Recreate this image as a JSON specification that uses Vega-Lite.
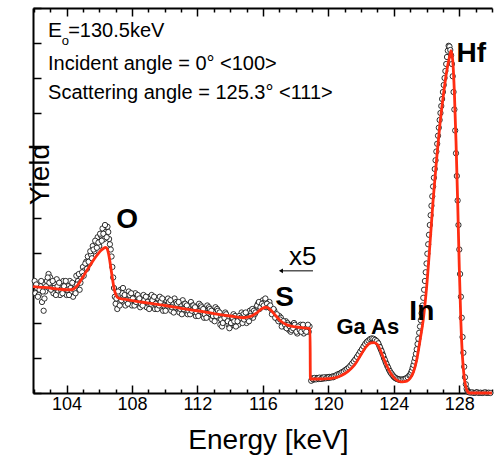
{
"$schema":"https://vega.github.io/schema/vega-lite/v6.json",
"width":459,"height":385,
"autosize":{"type":"none"},
"padding":{"left":33,"top":8,"right":2,"bottom":63},
"config":{"view":{"stroke":null},"font":"Liberation Sans","axis":{"domainColor":"black","domainWidth":2,"tickColor":"black","tickWidth":1.5,"labelFont":"Liberation Sans","titleFont":"Liberation Sans","grid":false,"labelColor":"black","titleColor":"black"}},
"datasets":{
"pts":[
{"e":102.1,"c":2.85},{"e":102.2,"c":3.0},{"e":102.3,"c":2.8},{"e":102.4,"c":3.05},{"e":102.5,"c":2.6},{"e":102.6,"c":2.35},{"e":102.7,"c":2.9},{"e":102.8,"c":3.2},{"e":102.9,"c":3.4},{"e":103.0,"c":3.3},
{"e":103.1,"c":3.0},{"e":103.2,"c":2.85},{"e":103.3,"c":3.1},{"e":103.4,"c":3.25},{"e":103.5,"c":2.9},{"e":103.6,"c":2.8},{"e":103.7,"c":3.15},{"e":103.8,"c":3.2},{"e":103.9,"c":2.95},{"e":104.0,"c":2.8},
{"e":104.1,"c":3.05},{"e":104.2,"c":3.2},{"e":104.3,"c":2.9},{"e":104.4,"c":2.75},{"e":104.5,"c":3.1},{"e":104.6,"c":3.35},{"e":104.7,"c":3.2},{"e":104.8,"c":2.95},{"e":104.9,"c":3.3},{"e":105.0,"c":3.6},
{"e":105.1,"c":3.5},{"e":105.2,"c":3.75},{"e":105.3,"c":3.9},{"e":105.4,"c":3.7},{"e":105.5,"c":3.95},{"e":105.6,"c":4.2},{"e":105.7,"c":4.05},{"e":105.8,"c":4.3},{"e":105.9,"c":4.45},{"e":106.0,"c":4.2},
{"e":106.1,"c":4.5},{"e":106.2,"c":4.7},{"e":106.3,"c":4.4},{"e":106.4,"c":4.6},{"e":106.5,"c":4.75},{"e":106.6,"c":4.4},{"e":106.7,"c":4.1},{"e":106.8,"c":3.6},{"e":106.9,"c":3.0},{"e":107.0,"c":2.55},
{"e":107.1,"c":2.4},{"e":107.2,"c":2.7},{"e":107.3,"c":2.95},{"e":107.4,"c":2.85},{"e":107.5,"c":2.6},{"e":107.6,"c":2.5},{"e":107.7,"c":2.75},{"e":107.8,"c":2.9},{"e":107.9,"c":2.7},{"e":108.0,"c":2.5},
{"e":108.1,"c":2.65},{"e":108.2,"c":2.85},{"e":108.3,"c":2.75},{"e":108.4,"c":2.55},{"e":108.5,"c":2.45},{"e":108.6,"c":2.7},{"e":108.7,"c":2.8},{"e":108.8,"c":2.6},{"e":108.9,"c":2.45},{"e":109.0,"c":2.55},
{"e":109.1,"c":2.75},{"e":109.2,"c":2.8},{"e":109.3,"c":2.6},{"e":109.4,"c":2.4},{"e":109.5,"c":2.5},{"e":109.6,"c":2.7},{"e":109.7,"c":2.75},{"e":109.8,"c":2.55},{"e":109.9,"c":2.35},{"e":110.0,"c":2.45},
{"e":110.1,"c":2.65},{"e":110.2,"c":2.7},{"e":110.3,"c":2.5},{"e":110.4,"c":2.35},{"e":110.5,"c":2.55},{"e":110.6,"c":2.7},{"e":110.7,"c":2.6},{"e":110.8,"c":2.4},{"e":110.9,"c":2.3},{"e":111.0,"c":2.5},
{"e":111.1,"c":2.65},{"e":111.2,"c":2.55},{"e":111.3,"c":2.35},{"e":111.4,"c":2.25},{"e":111.5,"c":2.45},{"e":111.6,"c":2.6},{"e":111.7,"c":2.5},{"e":111.8,"c":2.3},{"e":111.9,"c":2.2},{"e":112.0,"c":2.4},
{"e":112.1,"c":2.55},{"e":112.2,"c":2.5},{"e":112.3,"c":2.3},{"e":112.4,"c":2.15},{"e":112.5,"c":2.35},{"e":112.6,"c":2.5},{"e":112.7,"c":2.45},{"e":112.8,"c":2.25},{"e":112.9,"c":2.1},{"e":113.0,"c":2.2},
{"e":113.1,"c":2.45},{"e":113.2,"c":2.4},{"e":113.3,"c":2.15},{"e":113.4,"c":1.95},{"e":113.5,"c":1.9},{"e":113.6,"c":2.1},{"e":113.7,"c":2.3},{"e":113.8,"c":2.15},{"e":113.9,"c":1.95},{"e":114.0,"c":1.9},
{"e":114.1,"c":2.05},{"e":114.2,"c":2.25},{"e":114.3,"c":2.2},{"e":114.4,"c":2.0},{"e":114.5,"c":1.95},{"e":114.6,"c":2.1},{"e":114.7,"c":2.3},{"e":114.8,"c":2.25},{"e":114.9,"c":2.05},{"e":115.0,"c":2.0},
{"e":115.1,"c":2.2},{"e":115.2,"c":2.35},{"e":115.3,"c":2.3},{"e":115.4,"c":2.15},{"e":115.5,"c":2.25},{"e":115.6,"c":2.45},{"e":115.7,"c":2.55},{"e":115.8,"c":2.4},{"e":115.9,"c":2.5},{"e":116.0,"c":2.65},
{"e":116.1,"c":2.6},{"e":116.2,"c":2.45},{"e":116.3,"c":2.55},{"e":116.4,"c":2.6},{"e":116.5,"c":2.4},{"e":116.6,"c":2.3},{"e":116.7,"c":2.35},{"e":116.8,"c":2.2},{"e":116.9,"c":2.1},{"e":117.0,"c":2.2},
{"e":117.1,"c":2.15},{"e":117.2,"c":1.95},{"e":117.3,"c":1.9},{"e":117.4,"c":2.05},{"e":117.5,"c":2.0},{"e":117.6,"c":1.8},{"e":117.7,"c":1.75},{"e":117.8,"c":1.95},{"e":117.9,"c":2.0},{"e":118.0,"c":1.8},
{"e":118.1,"c":1.7},{"e":118.2,"c":1.85},{"e":118.3,"c":1.95},{"e":118.4,"c":1.8},{"e":118.5,"c":1.7},{"e":118.6,"c":1.85},{"e":118.7,"c":1.9},{"e":118.8,"c":1.75},{"e":118.85,"c":1.9},
{"e":102.05,"c":3.2},{"e":102.15,"c":3.1},{"e":102.25,"c":2.75},{"e":102.35,"c":2.95},{"e":102.45,"c":3.2},{"e":102.55,"c":2.9},{"e":102.65,"c":2.7},{"e":102.75,"c":3.05},{"e":102.85,"c":3.3},{"e":102.95,"c":3.15},
{"e":103.05,"c":2.95},{"e":103.15,"c":3.2},{"e":103.25,"c":3.0},{"e":103.35,"c":2.8},{"e":103.45,"c":3.05},{"e":103.55,"c":3.15},{"e":103.65,"c":2.95},{"e":103.75,"c":2.85},{"e":103.85,"c":3.05},{"e":103.95,"c":3.2},
{"e":104.05,"c":2.95},{"e":104.15,"c":2.8},{"e":104.25,"c":3.0},{"e":104.35,"c":3.15},{"e":104.45,"c":2.95},{"e":104.55,"c":2.85},{"e":104.65,"c":3.1},{"e":104.75,"c":3.4},{"e":104.85,"c":3.15},{"e":104.95,"c":3.45},
{"e":105.05,"c":3.35},{"e":105.15,"c":3.7},{"e":105.25,"c":3.55},{"e":105.35,"c":3.75},{"e":105.45,"c":4.05},{"e":105.55,"c":3.85},{"e":105.65,"c":4.1},{"e":105.75,"c":4.35},{"e":105.85,"c":4.15},{"e":105.95,"c":4.3},
{"e":106.05,"c":4.55},{"e":106.15,"c":4.35},{"e":106.25,"c":4.55},{"e":106.35,"c":4.8},{"e":106.45,"c":4.45},{"e":106.55,"c":4.6},{"e":106.65,"c":4.25},{"e":106.75,"c":3.9},{"e":106.85,"c":3.3},{"e":106.95,"c":2.75},
{"e":107.05,"c":2.7},{"e":107.15,"c":2.9},{"e":107.25,"c":2.5},{"e":107.35,"c":2.65},{"e":107.45,"c":3.0},{"e":107.55,"c":2.8},{"e":107.65,"c":2.65},{"e":107.75,"c":2.55},{"e":107.85,"c":2.8},{"e":107.95,"c":2.85},
{"e":108.05,"c":2.7},{"e":108.15,"c":2.5},{"e":108.25,"c":2.6},{"e":108.35,"c":2.8},{"e":108.45,"c":2.7},{"e":108.55,"c":2.55},{"e":108.65,"c":2.5},{"e":108.75,"c":2.65},{"e":108.85,"c":2.75},{"e":108.95,"c":2.6},
{"e":109.05,"c":2.4},{"e":109.15,"c":2.55},{"e":109.25,"c":2.65},{"e":109.35,"c":2.75},{"e":109.45,"c":2.55},{"e":109.55,"c":2.4},{"e":109.65,"c":2.5},{"e":109.75,"c":2.6},{"e":109.85,"c":2.7},{"e":109.95,"c":2.5},
{"e":110.05,"c":2.35},{"e":110.15,"c":2.5},{"e":110.25,"c":2.6},{"e":110.35,"c":2.65},{"e":110.45,"c":2.45},{"e":110.55,"c":2.3},{"e":110.65,"c":2.45},{"e":110.75,"c":2.55},{"e":110.85,"c":2.6},{"e":110.95,"c":2.4},
{"e":111.05,"c":2.25},{"e":111.15,"c":2.4},{"e":111.25,"c":2.55},{"e":111.35,"c":2.5},{"e":111.45,"c":2.35},{"e":111.55,"c":2.25},{"e":111.65,"c":2.35},{"e":111.75,"c":2.5},{"e":111.85,"c":2.45},{"e":111.95,"c":2.3},
{"e":112.05,"c":2.2},{"e":112.15,"c":2.35},{"e":112.25,"c":2.45},{"e":112.35,"c":2.4},{"e":112.45,"c":2.25},{"e":112.55,"c":2.15},{"e":112.65,"c":2.3},{"e":112.75,"c":2.4},{"e":112.85,"c":2.35},{"e":112.95,"c":2.2},
{"e":113.05,"c":2.05},{"e":113.15,"c":2.2},{"e":113.25,"c":2.35},{"e":113.35,"c":2.3},{"e":113.45,"c":2.1},{"e":113.55,"c":2.0},{"e":113.65,"c":2.15},{"e":113.75,"c":2.25},{"e":113.85,"c":2.05},{"e":113.95,"c":1.85},
{"e":114.05,"c":2.0},{"e":114.15,"c":2.15},{"e":114.25,"c":2.05},{"e":114.35,"c":1.9},{"e":114.45,"c":2.05},{"e":114.55,"c":2.2},{"e":114.65,"c":2.15},{"e":114.75,"c":2.0},{"e":114.85,"c":2.1},{"e":114.95,"c":2.3},
{"e":115.05,"c":2.15},{"e":115.15,"c":2.05},{"e":115.25,"c":2.2},{"e":115.35,"c":2.4},{"e":115.45,"c":2.35},{"e":115.55,"c":2.3},{"e":115.65,"c":2.5},{"e":115.75,"c":2.6},{"e":115.85,"c":2.45},{"e":115.95,"c":2.55},
{"e":116.05,"c":2.5},{"e":116.15,"c":2.7},{"e":116.25,"c":2.55},{"e":116.35,"c":2.45},{"e":116.45,"c":2.5},{"e":116.55,"c":2.25},{"e":116.65,"c":2.4},{"e":116.75,"c":2.15},{"e":116.85,"c":2.25},{"e":116.95,"c":2.05},
{"e":117.05,"c":2.1},{"e":117.15,"c":1.9},{"e":117.25,"c":2.05},{"e":117.35,"c":1.95},{"e":117.45,"c":1.85},{"e":117.55,"c":1.95},{"e":117.65,"c":1.9},{"e":117.75,"c":1.8},{"e":117.85,"c":1.85},{"e":117.95,"c":1.95},
{"e":118.05,"c":1.75},{"e":118.15,"c":1.9},{"e":118.25,"c":1.8},{"e":118.35,"c":1.75},{"e":118.45,"c":1.95},{"e":118.55,"c":1.8},{"e":118.65,"c":1.75},{"e":118.75,"c":1.95},
{"e":118.95,"c":0.35},{"e":119.0,"c":0.42},{"e":119.1,"c":0.38},{"e":119.2,"c":0.41},{"e":119.3,"c":0.43},{"e":119.4,"c":0.4},{"e":119.5,"c":0.42},{"e":119.6,"c":0.44},{"e":119.7,"c":0.41},{"e":119.8,"c":0.43},{"e":119.9,"c":0.45},
{"e":120.0,"c":0.43},{"e":120.1,"c":0.45},{"e":120.2,"c":0.46},{"e":120.3,"c":0.45},{"e":120.4,"c":0.48},{"e":120.5,"c":0.5},{"e":120.6,"c":0.52},{"e":120.7,"c":0.55},{"e":120.8,"c":0.57},{"e":120.9,"c":0.6},
{"e":121.0,"c":0.63},{"e":121.1,"c":0.67},{"e":121.2,"c":0.7},{"e":121.3,"c":0.74},{"e":121.4,"c":0.8},{"e":121.5,"c":0.86},{"e":121.6,"c":0.92},{"e":121.7,"c":0.98},{"e":121.8,"c":1.05},{"e":121.9,"c":1.13},
{"e":122.0,"c":1.2},{"e":122.1,"c":1.27},{"e":122.2,"c":1.35},{"e":122.3,"c":1.42},{"e":122.4,"c":1.47},{"e":122.5,"c":1.5},{"e":122.6,"c":1.53},{"e":122.7,"c":1.54},{"e":122.8,"c":1.53},{"e":122.9,"c":1.5},
{"e":123.0,"c":1.45},{"e":123.1,"c":1.36},{"e":123.2,"c":1.25},{"e":123.3,"c":1.13},{"e":123.4,"c":1.0},{"e":123.5,"c":0.88},{"e":123.6,"c":0.77},{"e":123.7,"c":0.67},{"e":123.8,"c":0.58},{"e":123.9,"c":0.52},
{"e":124.0,"c":0.46},{"e":124.1,"c":0.42},{"e":124.2,"c":0.4},{"e":124.3,"c":0.38},{"e":124.4,"c":0.37},{"e":124.5,"c":0.37},{"e":124.6,"c":0.38},{"e":124.7,"c":0.4},{"e":124.8,"c":0.42},{"e":124.9,"c":0.46},
{"e":119.05,"c":0.4},{"e":119.15,"c":0.43},{"e":119.25,"c":0.39},{"e":119.35,"c":0.42},{"e":119.45,"c":0.44},{"e":119.55,"c":0.4},{"e":119.65,"c":0.43},{"e":119.75,"c":0.45},{"e":119.85,"c":0.42},{"e":119.95,"c":0.44},
{"e":120.05,"c":0.46},{"e":120.15,"c":0.44},{"e":120.25,"c":0.47},{"e":120.35,"c":0.48},{"e":120.45,"c":0.5},{"e":120.55,"c":0.53},{"e":120.65,"c":0.54},{"e":120.75,"c":0.57},{"e":120.85,"c":0.6},{"e":120.95,"c":0.62},
{"e":121.05,"c":0.66},{"e":121.15,"c":0.69},{"e":121.25,"c":0.73},{"e":121.35,"c":0.78},{"e":121.45,"c":0.84},{"e":121.55,"c":0.9},{"e":121.65,"c":0.96},{"e":121.75,"c":1.03},{"e":121.85,"c":1.1},{"e":121.95,"c":1.18},
{"e":122.05,"c":1.25},{"e":122.15,"c":1.33},{"e":122.25,"c":1.4},{"e":122.35,"c":1.46},{"e":122.45,"c":1.5},{"e":122.55,"c":1.54},{"e":122.65,"c":1.56},{"e":122.75,"c":1.55},{"e":122.85,"c":1.52},{"e":122.95,"c":1.48},
{"e":123.05,"c":1.42},{"e":123.15,"c":1.31},{"e":123.25,"c":1.2},{"e":123.35,"c":1.07},{"e":123.45,"c":0.95},{"e":123.55,"c":0.83},{"e":123.65,"c":0.73},{"e":123.75,"c":0.63},{"e":123.85,"c":0.56},{"e":123.95,"c":0.5},
{"e":124.05,"c":0.45},{"e":124.15,"c":0.42},{"e":124.25,"c":0.4},{"e":124.35,"c":0.39},{"e":124.45,"c":0.38},{"e":124.55,"c":0.39},{"e":124.65,"c":0.4},{"e":124.75,"c":0.42},{"e":124.85,"c":0.45},{"e":124.95,"c":0.5},
{"e":125.0,"c":0.52},{"e":125.05,"c":0.58},{"e":125.1,"c":0.64},{"e":125.15,"c":0.72},{"e":125.2,"c":0.8},{"e":125.25,"c":0.9},{"e":125.3,"c":1.0},{"e":125.35,"c":1.12},{"e":125.4,"c":1.25},{"e":125.45,"c":1.4},
{"e":125.5,"c":1.55},{"e":125.55,"c":1.72},{"e":125.6,"c":1.9},{"e":125.65,"c":2.08},{"e":125.7,"c":2.28},{"e":125.75,"c":2.5},{"e":125.8,"c":2.72},{"e":125.85,"c":2.95},{"e":125.9,"c":3.2},{"e":125.95,"c":3.45},
{"e":126.0,"c":3.7},{"e":126.05,"c":3.98},{"e":126.1,"c":4.25},{"e":126.15,"c":4.52},{"e":126.2,"c":4.8},{"e":126.25,"c":5.08},{"e":126.3,"c":5.35},{"e":126.35,"c":5.62},{"e":126.4,"c":5.9},{"e":126.45,"c":6.15},
{"e":126.5,"c":6.4},{"e":126.55,"c":6.65},{"e":126.6,"c":6.9},{"e":126.65,"c":7.12},{"e":126.7,"c":7.35},{"e":126.75,"c":7.58},{"e":126.8,"c":7.8},{"e":126.85,"c":8.0},{"e":126.9,"c":8.2},{"e":126.95,"c":8.4},
{"e":127.0,"c":8.6},{"e":127.05,"c":8.8},{"e":127.1,"c":9.0},{"e":127.15,"c":9.2},{"e":127.2,"c":9.4},{"e":127.25,"c":9.6},{"e":127.3,"c":9.78},{"e":127.35,"c":9.92},{"e":127.4,"c":9.9},{"e":127.45,"c":9.8},
{"e":127.5,"c":9.65},{"e":127.55,"c":9.4},{"e":127.6,"c":9.05},{"e":127.65,"c":8.6},{"e":127.7,"c":8.1},{"e":127.75,"c":7.5},{"e":127.8,"c":6.85},{"e":127.85,"c":6.2},{"e":127.9,"c":5.5},{"e":127.95,"c":4.8},
{"e":128.0,"c":4.1},{"e":128.05,"c":3.4},{"e":128.1,"c":2.75},{"e":128.15,"c":2.15},{"e":128.2,"c":1.6},{"e":128.25,"c":1.15},{"e":128.3,"c":0.75},{"e":128.35,"c":0.45},{"e":128.4,"c":0.25},{"e":128.45,"c":0.12},
{"e":128.5,"c":0.06},{"e":128.55,"c":0.03},{"e":128.6,"c":0.02},{"e":128.7,"c":0.01},{"e":128.8,"c":0.02},{"e":128.9,"c":0.0},{"e":129.0,"c":0.01},{"e":129.1,"c":0.02},{"e":129.2,"c":0.0},{"e":129.3,"c":0.01},
{"e":129.4,"c":0.0},{"e":129.5,"c":0.01},{"e":129.6,"c":0.02},{"e":129.7,"c":0.0},{"e":129.8,"c":0.01},{"e":129.9,"c":0.0}
],
"fit":[
{"e":101.95,"f":3.04},{"e":102.5,"f":3.02},{"e":103.0,"f":3.0},{"e":103.5,"f":2.97},{"e":104.0,"f":2.95},{"e":104.3,"f":2.95},{"e":104.45,"f":2.98},{"e":104.6,"f":3.04},{"e":104.75,"f":3.13},{"e":104.9,"f":3.24},
{"e":105.05,"f":3.35},{"e":105.2,"f":3.47},{"e":105.35,"f":3.58},{"e":105.5,"f":3.69},{"e":105.65,"f":3.8},{"e":105.8,"f":3.9},{"e":105.95,"f":3.99},{"e":106.1,"f":4.07},{"e":106.25,"f":4.13},{"e":106.4,"f":4.16},
{"e":106.5,"f":4.1},{"e":106.6,"f":3.9},{"e":106.7,"f":3.6},{"e":106.8,"f":3.28},{"e":106.9,"f":3.0},{"e":107.0,"f":2.82},{"e":107.1,"f":2.74},{"e":107.25,"f":2.7},{"e":107.5,"f":2.68},{"e":108.0,"f":2.64},
{"e":109.0,"f":2.57},{"e":110.0,"f":2.5},{"e":111.0,"f":2.42},{"e":112.0,"f":2.35},{"e":113.0,"f":2.27},{"e":114.0,"f":2.2},{"e":114.8,"f":2.15},{"e":115.2,"f":2.18},{"e":115.6,"f":2.28},{"e":115.9,"f":2.4},
{"e":116.2,"f":2.45},{"e":116.5,"f":2.36},{"e":116.8,"f":2.2},{"e":117.1,"f":2.05},{"e":117.5,"f":1.94},{"e":118.0,"f":1.89},{"e":118.5,"f":1.86},{"e":118.88,"f":1.84},{"e":118.9,"f":0.4},{"e":119.2,"f":0.4},
{"e":119.6,"f":0.4},{"e":120.0,"f":0.41},{"e":120.4,"f":0.43},{"e":120.8,"f":0.5},{"e":121.2,"f":0.62},{"e":121.6,"f":0.8},{"e":122.0,"f":1.1},{"e":122.3,"f":1.32},{"e":122.6,"f":1.43},{"e":122.8,"f":1.44},
{"e":123.0,"f":1.38},{"e":123.3,"f":1.08},{"e":123.6,"f":0.75},{"e":123.9,"f":0.5},{"e":124.2,"f":0.36},{"e":124.5,"f":0.32},{"e":124.8,"f":0.34},{"e":125.0,"f":0.42},{"e":125.2,"f":0.6},{"e":125.4,"f":0.95},
{"e":125.6,"f":1.5},{"e":125.8,"f":2.1},{"e":126.0,"f":3.0},{"e":126.2,"f":4.2},{"e":126.4,"f":5.5},{"e":126.6,"f":6.6},{"e":126.8,"f":7.6},{"e":127.0,"f":8.4},{"e":127.2,"f":9.1},{"e":127.4,"f":9.6},
{"e":127.5,"f":9.78},{"e":127.6,"f":9.5},{"e":127.7,"f":8.6},{"e":127.8,"f":7.2},{"e":127.9,"f":5.5},{"e":128.0,"f":3.6},{"e":128.1,"f":2.0},{"e":128.2,"f":1.0},{"e":128.3,"f":0.45},{"e":128.4,"f":0.18},
{"e":128.5,"f":0.05},{"e":128.6,"f":0.0},{"e":129.0,"f":0.0},{"e":130.0,"f":0.0}
]
},
"resolve":{"axis":{"x":"independent","y":"independent"}},
"layer":[
{"data":{"name":"pts"},
 "mark":{"type":"point","shape":"circle","fill":"white","stroke":"black","strokeWidth":0.8,"size":28,"opacity":1},
 "encoding":{
  "x":{"field":"e","type":"quantitative","scale":{"domain":[101.95,130],"nice":false,"zero":false},
   "axis":{"orient":"bottom","values":[102,103,104,105,106,107,108,109,110,111,112,113,114,115,116,117,118,119,120,121,122,123,124,125,126,127,128,129,130],
    "labelExpr":"datum.value % 4 === 0 ? datum.value : ''",
    "tickSize":{"condition":{"test":"datum.value % 4 === 0","value":-8},"value":-4},
    "labelFontSize":18,"labelBaseline":"alphabetic","labelPadding":24,"labelFlush":false,"labelOverlap":false,
    "title":"Energy [keV]","titleFontSize":28,"titleFontWeight":"normal","titleX":235,"titleY":55,"titleAlign":"center","titleBaseline":"alphabetic"}},
  "y":{"field":"c","type":"quantitative","scale":{"domain":[0,11],"nice":false,"zero":false},
   "axis":{"orient":"left","values":[0,1,2,3,4,5,6,7,8,9,10,11],"labels":false,"tickSize":-8,
    "title":"Yield","titleFontSize":28,"titleFontWeight":"normal","titleX":15,"titleY":166,"titleAngle":-90,"titleAlign":"center","titleBaseline":"alphabetic"}}
 }},
{"data":{"name":"fit"},
 "mark":{"type":"line","color":"#ff2d12","strokeWidth":2.8,"interpolate":"monotone"},
 "encoding":{
  "x":{"field":"e","type":"quantitative","scale":{"domain":[101.95,130],"nice":false,"zero":false},
   "axis":{"orient":"top","values":[102,103,104,105,106,107,108,109,110,111,112,113,114,115,116,117,118,119,120,121,122,123,124,125,126,127,128,129,130],
    "labels":false,"title":null,"tickSize":{"condition":{"test":"datum.value % 4 === 0","value":-8},"value":-4}}},
  "y":{"field":"f","type":"quantitative","scale":{"domain":[0,11],"nice":false,"zero":false},"axis":null}
 }},
{"data":{"values":[{"e":102.87,"v":10.18,"t":"E"}]},
 "mark":{"type":"text","align":"left","baseline":"alphabetic","fontSize":21,"color":"black"},
 "encoding":{"x":{"field":"e","type":"quantitative","axis":null},"y":{"field":"v","type":"quantitative","axis":null},"text":{"field":"t"}}},
{"data":{"values":[{"e":104.1,"v":10.18,"t":"=130.5keV"},{"e":102.87,"v":9.23,"t":"Incident angle = 0° <100>"},{"e":102.87,"v":8.4,"t":"Scattering angle = 125.3° <111>"}]},
 "mark":{"type":"text","align":"left","baseline":"alphabetic","fontSize":20,"color":"black"},
 "encoding":{"x":{"field":"e","type":"quantitative","axis":null},"y":{"field":"v","type":"quantitative","axis":null},"text":{"field":"t"}}},
{"data":{"values":[{"e":103.7,"v":9.95,"t":"o"}]},
 "mark":{"type":"text","align":"left","baseline":"alphabetic","fontSize":13,"color":"black"},
 "encoding":{"x":{"field":"e","type":"quantitative","axis":null},"y":{"field":"v","type":"quantitative","axis":null},"text":{"field":"t"}}},
{"data":{"values":[{"e":107.71,"v":4.71,"t":"O"},{"e":117.32,"v":2.49,"t":"S"},{"e":125.71,"v":2.1,"t":"In"},{"e":128.74,"v":9.46,"t":"Hf"}]},
 "mark":{"type":"text","align":"center","baseline":"alphabetic","fontSize":28,"fontWeight":"bold","color":"black"},
 "encoding":{"x":{"field":"e","type":"quantitative","axis":null},"y":{"field":"v","type":"quantitative","axis":null},"text":{"field":"t"}}},
{"data":{"values":[{"e":122.41,"v":1.69,"t":"Ga As"}]},
 "mark":{"type":"text","align":"center","baseline":"alphabetic","fontSize":22,"fontWeight":"bold","color":"black"},
 "encoding":{"x":{"field":"e","type":"quantitative","axis":null},"y":{"field":"v","type":"quantitative","axis":null},"text":{"field":"t"}}},
{"data":{"values":[{"e":118.44,"v":3.66,"t":"x5"}]},
 "mark":{"type":"text","align":"center","baseline":"alphabetic","fontSize":26,"color":"black"},
 "encoding":{"x":{"field":"e","type":"quantitative","axis":null},"y":{"field":"v","type":"quantitative","axis":null},"text":{"field":"t"}}},
{"data":{"values":[{"e":117.1,"e2":119.06,"v":3.49}]},
 "mark":{"type":"rule","color":"black","strokeWidth":1},
 "encoding":{"x":{"field":"e","type":"quantitative","axis":null},"x2":{"field":"e2"},"y":{"field":"v","type":"quantitative","axis":null}}},
{"data":{"values":[{"e":117.1,"v":3.49}]},
 "mark":{"type":"point","shape":"triangle-left","filled":true,"color":"black","size":22,"opacity":1},
 "encoding":{"x":{"field":"e","type":"quantitative","axis":null},"y":{"field":"v","type":"quantitative","axis":null}}}
]
}
